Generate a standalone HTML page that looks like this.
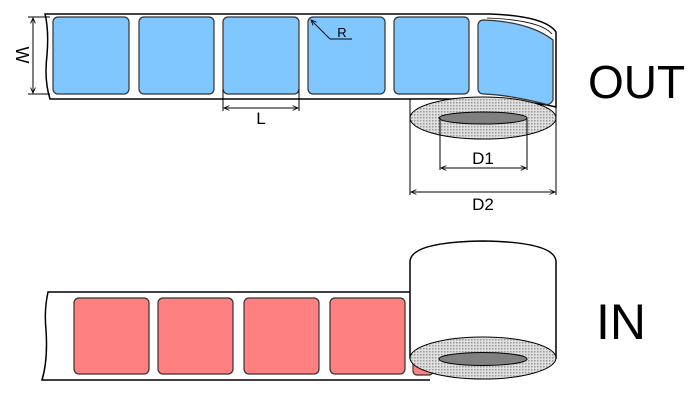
<!DOCTYPE html>
<html><head><meta charset="utf-8"><style>
html,body{margin:0;padding:0;background:#fff;}
svg{display:block;}
text{font-family:"Liberation Sans",sans-serif;}
</style></head><body>
<svg width="700" height="400" viewBox="0 0 700 400" xmlns="http://www.w3.org/2000/svg">
<defs>
<pattern id="dots" width="3" height="3" patternUnits="userSpaceOnUse">
<rect width="3" height="3" fill="#e0e0e0"/><rect width="1.5" height="1.5" fill="#999"/>
</pattern>
<marker id="ar" viewBox="0 0 10 10" refX="9" refY="5" markerWidth="6" markerHeight="6" orient="auto-start-reverse"><path d="M0,1 L9,5 L0,9" fill="none" stroke="#000" stroke-width="1.5"/></marker>
</defs>

<path d="M45,14 L490,14 Q545,16 556,32 L556,107 Q520,98 410,99 L50,99 Q44,80 47,55 Q49,30 45,14 Z" fill="#fff" stroke="#000" stroke-width="1.5"/>
<path d="M487,18 Q540,20 552,34" fill="none" stroke="#000" stroke-width="0.8"/>
<g fill="#80c6ff" stroke="#333" stroke-width="1.2">
<rect x="53" y="17" width="76" height="77" rx="5"/>
<rect x="139" y="17" width="75" height="77" rx="5"/>
<rect x="223" y="17" width="76" height="77" rx="5"/>
<rect x="308" y="17" width="77" height="77" rx="5"/>
<rect x="394" y="17" width="75" height="77" rx="5"/>
<path d="M484,20 Q530,22 553,40 L553,100 Q550,106 545,104 Q510,95 484,94 Q478,94 478,88 L478,26 Q478,20 484,20 Z"/>
</g>
<line x1="410" y1="99" x2="410" y2="118" stroke="#000" stroke-width="1"/>
<ellipse cx="483" cy="118" rx="73" ry="21" fill="url(#dots)" stroke="#000" stroke-width="1"/>
<ellipse cx="483" cy="118" rx="44" ry="6" fill="#808080" stroke="#000" stroke-width="1"/>
<g stroke="#000" stroke-width="1" fill="none">
<line x1="440" y1="118" x2="440" y2="170"/><line x1="527" y1="118" x2="527" y2="170"/>
<line x1="441" y1="168" x2="526" y2="168" marker-start="url(#ar)" marker-end="url(#ar)"/>
<line x1="410" y1="118" x2="410" y2="195"/><line x1="556" y1="107" x2="556" y2="195"/>
<line x1="411" y1="192" x2="555" y2="192" marker-start="url(#ar)" marker-end="url(#ar)"/>
<line x1="223" y1="89" x2="223" y2="111"/><line x1="299" y1="89" x2="299" y2="111"/>
<line x1="224" y1="108" x2="298" y2="108" marker-start="url(#ar)" marker-end="url(#ar)"/>
<line x1="28" y1="17" x2="50" y2="17"/><line x1="28" y1="94" x2="50" y2="94"/>
<line x1="33" y1="18" x2="33" y2="93" marker-start="url(#ar)" marker-end="url(#ar)"/>
<line x1="330" y1="39" x2="352" y2="39"/>
<line x1="330" y1="39" x2="311" y2="20" marker-end="url(#ar)"/>
</g>
<text x="483" y="164" font-size="17" text-anchor="middle">D1</text>
<text x="483" y="210" font-size="17" text-anchor="middle">D2</text>
<text x="261" y="124" font-size="17" text-anchor="middle">L</text>
<text x="342" y="37" font-size="13" text-anchor="middle">R</text>
<text x="0" y="0" font-size="18" text-anchor="middle" transform="translate(16,55) rotate(90)">W</text>
<text x="588" y="98" font-size="46">OUT</text>

<path d="M410,292 L48,292 Q44,310 46,330 Q48,360 42,380 L430,380" fill="#fff" stroke="#000" stroke-width="1.5"/>
<g fill="#ff8080" stroke="#333" stroke-width="1.2">
<rect x="74" y="298" width="75" height="76" rx="5"/>
<rect x="158" y="298" width="75" height="76" rx="5"/>
<rect x="244" y="298" width="75" height="76" rx="5"/>
<rect x="330" y="298" width="75" height="76" rx="5"/>
<rect x="413" y="360" width="20" height="15" rx="4"/>
</g>
<path d="M410,262 Q410,242 483,241 Q556,242 556,262 L556,358 L410,358 Z" fill="#fff" stroke="#000" stroke-width="1.5"/>
<ellipse cx="483" cy="358" rx="73" ry="21" fill="url(#dots)" stroke="#000" stroke-width="1"/>
<ellipse cx="483" cy="359" rx="44" ry="6.5" fill="#808080" stroke="#000" stroke-width="1"/>
<text x="596" y="339" font-size="50">IN</text>
</svg>
</body></html>
